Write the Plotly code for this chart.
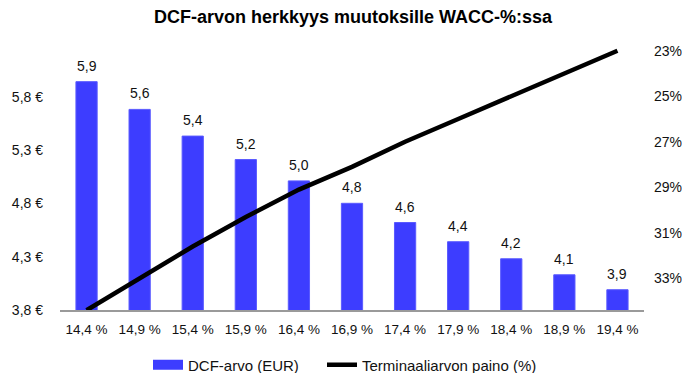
import plotly.graph_objects as go

categories = ["14,4 %", "14,9 %", "15,4 %", "15,9 %", "16,4 %", "16,9 %",
              "17,4 %", "17,9 %", "18,4 %", "18,9 %", "19,4 %"]
dcf_values = [5.89, 5.63, 5.38, 5.16, 4.96, 4.75, 4.57, 4.39, 4.23, 4.08, 3.94]
terminal_weight = [34.4, 33.0, 31.6, 30.3, 29.1, 28.1, 27.0, 26.0, 25.0, 24.0, 23.0]
left_tickvals = [3.75, 4.25, 4.75, 5.25, 5.75]
left_ticktext = ["3,8 €", "4,3 €", "4,8 €", "5,3 €", "5,8 €"]
right_tickvals = [23, 25, 27, 29, 31, 33]
right_ticktext = ["23%", "25%", "27%", "29%", "31%", "33%"]

FONT = "Liberation Sans"
BLUE = "#3d3dff"

fig = go.Figure()
fig.add_trace(go.Bar(
    x=categories, y=dcf_values, name="DCF-arvo (EUR)",
    marker=dict(color=BLUE, line=dict(color="#5a5aff", width=1)),
    width=0.4, yaxis="y", showlegend=False,
))
# legend proxy: wide flat rectangle like the reference's legend key
fig.add_trace(go.Scatter(
    x=[None], y=[None], name="DCF-arvo (EUR)", mode="lines",
    line=dict(color=BLUE, width=10), yaxis="y", legend="legend",
))
fig.add_trace(go.Scatter(
    x=categories, y=terminal_weight, name="Terminaaliarvon paino (%)",
    mode="lines", line=dict(color="black", width=4.5), yaxis="y2",
    legend="legend2",
))

for c, v in zip(categories, dcf_values):
    fig.add_annotation(x=c, y=v, xref="x", yref="y",
                       text=f"{v:.1f}".replace(".", ","),
                       showarrow=False, yanchor="bottom", yshift=6,
                       font=dict(family=FONT, size=14, color="#111"))

legend_common = dict(orientation="h", xref="container", xanchor="left",
                     yref="container", y=1 - 357 / 373, yanchor="middle",
                     font=dict(size=15), itemwidth=30,
                     bgcolor="rgba(0,0,0,0)")

fig.update_layout(
    width=690, height=373,
    margin=dict(l=52, r=54, t=32, b=71, autoexpand=False),
    paper_bgcolor="white", plot_bgcolor="white",
    separators=", ",
    font=dict(family=FONT, size=13.5, color="#111"),
    title=dict(text="<b>DCF-arvon herkkyys muutoksille WACC-%:ssa</b>",
               x=0.5, xanchor="center", y=1 - 9 / 373, yanchor="middle",
               font=dict(family=FONT, size=18, color="black")),
    xaxis=dict(type="category", showline=True, linecolor="#9a9a9a", linewidth=1.5,
               showgrid=False, ticks="", ticklabelstandoff=6, automargin=False,
               tickfont=dict(size=13.5), range=[-0.5, 10.5]),
    yaxis=dict(range=[3.75, 3.75 + 270 / 106.7], tickvals=left_tickvals,
               ticktext=left_ticktext, showgrid=False, zeroline=False,
               showline=False, ticks="", ticklabelstandoff=16, automargin=False,
               tickfont=dict(size=14)),
    yaxis2=dict(overlaying="y", side="right",
                range=[23 + (310 - 50.7) / 22.77, 23 - (50.7 - 40) / 22.77],
                tickvals=right_tickvals, ticktext=right_ticktext, showgrid=False,
                zeroline=False, showline=False, ticks="", ticklabelstandoff=9,
                automargin=False, tickfont=dict(size=14)),
    showlegend=True,
    legend=dict(legend_common, x=140 / 690),
    legend2=dict(legend_common, x=314 / 690),
    bargap=0.6,
)

fig.write_html("out.html")
